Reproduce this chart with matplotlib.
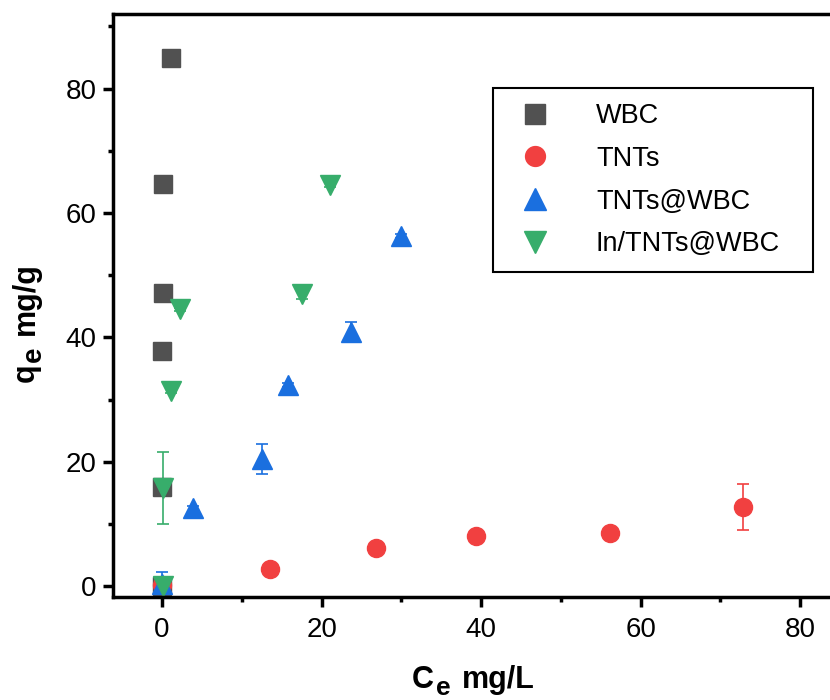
import numpy as np
import matplotlib
matplotlib.use("Agg")
import matplotlib.pyplot as plt

plt.rcParams['font.family'] = ['Liberation Sans', 'DejaVu Sans']

# Data (Ce in mg/L, qe in mg/g)
ce_wbc = [0.0, 0.0, 0.0, 0.1, 0.1, 1.1]
qe_wbc = [0.0, 16.0, 37.8, 47.1, 64.6, 85.0]
err_wbc = [0.3, 0.5, 0.4, 0.4, 0.3, 0.3]

ce_tnts = [0.0, 13.5, 26.8, 39.3, 56.2, 72.9]
qe_tnts = [0.1, 2.7, 6.1, 8.0, 8.5, 12.8]
err_tnts = [0.2, 0.3, 0.4, 0.9, 0.5, 3.7]

ce_tw = [0.0, 3.9, 12.5, 15.8, 23.7, 30.0]
qe_tw = [0.4, 12.5, 20.4, 32.3, 40.9, 56.3]
err_tw = [1.9, 0.4, 2.4, 0.3, 1.6, 0.3]

ce_itw = [0.1, 0.1, 1.1, 2.3, 17.5, 21.1]
qe_itw = [0.0, 15.8, 31.4, 44.5, 47.0, 64.5]
err_itw = [0.3, 5.8, 0.4, 0.3, 0.8, 0.3]

labels = ['WBC', 'TNTs', 'TNTs@WBC', 'In/TNTs@WBC']
colors = ['#515151', '#F14040', '#1A6FDF', '#37AD6B']
markers = ['s', 'o', '^', 'v']
sizes = [12.5, 13, 15, 15]

fig = plt.figure(figsize=(8.3, 7), dpi=100)
ax = fig.add_axes([0.1367, 0.1467, 1.012 - 0.1367, 0.98 - 0.1467])

series = [(ce_wbc, qe_wbc, err_wbc), (ce_tnts, qe_tnts, err_tnts),
          (ce_tw, qe_tw, err_tw), (ce_itw, qe_itw, err_itw)]
handles = []
for (x, y, e), lab, c, m, s in zip(series, labels, colors, markers, sizes):
    cont = ax.errorbar(x, y, yerr=e, fmt=m, ms=s, color=c, ecolor=c,
                       mec=c, elinewidth=1.2, capsize=4.5, capthick=1.2)
    handles.append(cont[0])

ax.set_xlim(-6.1, 85)
ax.set_ylim(-1.8, 92)
ax.set_xticks([0, 20, 40, 60, 80])
ax.set_xticks([10, 30, 50, 70], minor=True)
ax.set_yticks([0, 20, 40, 60, 80])
ax.set_yticks([10, 30, 50, 70, 90], minor=True)

for sp in ax.spines.values():
    sp.set_linewidth(2.5)
ax.tick_params(which='major', direction='out', length=7, width=2.5, labelsize=20)
ax.tick_params(which='minor', direction='out', length=3.5, width=2.5)
ax.tick_params(axis='x', pad=7)
ax.tick_params(axis='y', pad=5)

# axis titles built from pieces so the subscript "e" is full-size and dropped (Origin style)
bold = dict(fontweight='bold', annotation_clip=False)
tc = ax.annotate('C', xy=(0.411, 0), xycoords='axes fraction', xytext=(0, -91),
                 textcoords='offset pixels', ha='left', va='baseline', fontsize=22, **bold)
te = ax.annotate('e', xy=(1, 0), xycoords=tc, xytext=(2, -5),
                 textcoords='offset pixels', ha='left', va='bottom', fontsize=19, **bold)
ax.annotate('mg/L', xy=(1, 0), xycoords=te, xytext=(11, 5),
            textcoords='offset pixels', ha='left', va='bottom', fontsize=22, **bold)

tq = ax.annotate('q', xy=(-0.0998, 0.369), xycoords='axes fraction', rotation=90,
                 ha='right', va='bottom', fontsize=22, **bold)
te2 = ax.annotate('e', xy=(1, 1), xycoords=tq, xytext=(6, 1),
                  textcoords='offset pixels', rotation=90, ha='right', va='bottom',
                  fontsize=20, **bold)
ax.annotate('mg/g', xy=(1, 1), xycoords=te2, xytext=(-6, 12),
            textcoords='offset pixels', rotation=90, ha='right', va='bottom',
            fontsize=22, **bold)

leg = fig.legend(handles, labels, loc='upper left',
                 bbox_to_anchor=(0.594, 0.5, 0.386, 0.374), mode='expand',
                 fontsize=19.5, frameon=True, fancybox=False, framealpha=1,
                 borderpad=0.55, handletextpad=1.25, labelspacing=0.62,
                 borderaxespad=0, markerscale=1.1)
leg.get_frame().set_edgecolor('black')
leg.get_frame().set_linewidth(1.5)

fig.savefig('out.png', dpi=100)
